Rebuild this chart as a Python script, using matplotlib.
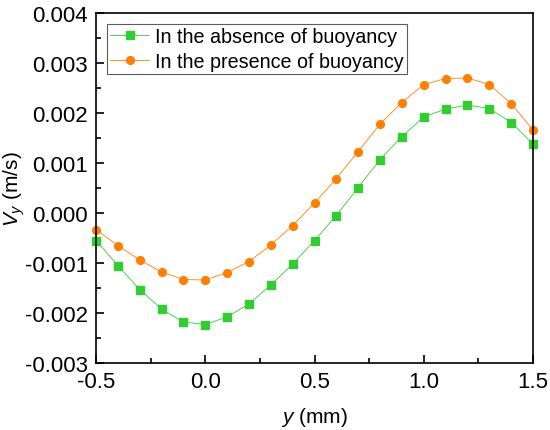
import matplotlib
matplotlib.use("Agg")
import matplotlib.pyplot as plt
from matplotlib.ticker import MultipleLocator

plt.rcParams['font.family'] = ['Liberation Sans', 'DejaVu Sans']
plt.rcParams['mathtext.fontset'] = 'custom'
plt.rcParams['mathtext.it'] = 'Liberation Sans:italic'
plt.rcParams['mathtext.rm'] = 'Liberation Sans'

y_mm = [-0.5, -0.4, -0.3, -0.2, -0.1, 0.0, 0.1, 0.2, 0.3, 0.4, 0.5,
        0.6, 0.7, 0.8, 0.9, 1.0, 1.1, 1.2, 1.3, 1.4, 1.5]
v_no_buoy = [-0.00055, -0.00105, -0.00153, -0.00192, -0.00218, -0.00223, -0.00208,
             -0.00182, -0.00144, -0.00102, -0.00055, -0.00005, 0.00051, 0.00107,
             0.00153, 0.00192, 0.00208, 0.00216, 0.00209, 0.00181, 0.00138]
v_buoy = [-0.00033, -0.00065, -0.00094, -0.00118, -0.00133, -0.00134, -0.00119,
          -0.00097, -0.00064, -0.00025, 0.00020, 0.00069, 0.00123, 0.00178,
          0.00221, 0.00257, 0.00269, 0.00270, 0.00257, 0.00219, 0.00166]

fig = plt.figure(figsize=(5.5, 4.31), dpi=100)
ax = fig.add_axes([96 / 550, 1 - 364 / 431, 437 / 550, 350 / 431])

ax.plot(y_mm, v_no_buoy, color='#33cc33', marker='s', markersize=5.2, lw=0.6,
        label='In the absence of buoyancy', clip_on=False)
ax.plot(y_mm, v_buoy, color='#ff8000', marker='o', markersize=5.6, lw=0.6,
        label='In the presence of buoyancy', clip_on=False)

ax.set_xlim(-0.5, 1.5)
ax.set_ylim(-0.003, 0.004)
ax.xaxis.set_major_locator(MultipleLocator(0.5))
ax.xaxis.set_minor_locator(MultipleLocator(0.25))
ax.yaxis.set_major_locator(MultipleLocator(0.001))
ax.yaxis.set_minor_locator(MultipleLocator(0.0005))
ax.yaxis.set_major_formatter(plt.FuncFormatter(lambda v, p: '%.3f' % v))
ax.xaxis.set_major_formatter(plt.FuncFormatter(lambda v, p: '%.1f' % v))
ax.tick_params(which='both', direction='in', labelsize=16, width=1.2)
ax.tick_params(which='major', length=6)
ax.tick_params(which='minor', length=3.5)
ax.tick_params(axis='y', which='both', pad=6)
ax.tick_params(axis='x', which='both', pad=6)
for s in ax.spines.values():
    s.set_linewidth(1.2)

ax.set_xlabel('$y$ (mm)', fontsize=15, labelpad=9)
ax.set_ylabel('$V_y$ (m/s)', fontsize=15)
ax.yaxis.set_label_coords(-0.158, 0.5)

leg = ax.legend(loc='upper left', fontsize=14.2, frameon=True, fancybox=False,
                borderpad=0.15, handlelength=2.0, handletextpad=0.3,
                labelspacing=0.3, borderaxespad=0.55)
leg.get_frame().set_edgecolor('#333333')
leg.get_frame().set_linewidth(0.8)

fig.savefig('out.png', dpi=100)
